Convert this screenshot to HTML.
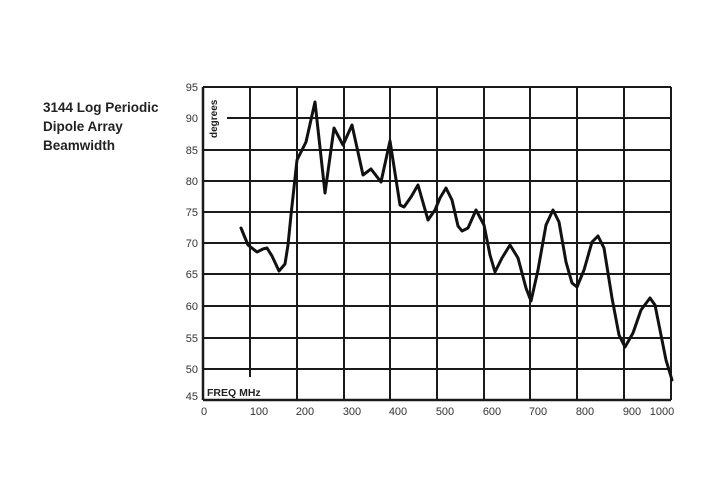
<!DOCTYPE html>
<html><head><style>
body{margin:0;background:#fff;}
</style></head><body>
<svg width="720" height="500" xmlns="http://www.w3.org/2000/svg" style="display:block">
<rect width="720" height="500" fill="#fff"/>
<g font-family="Liberation Sans, sans-serif" font-weight="bold" font-size="13.5" fill="#222">
<text x="43" y="112">3144 Log Periodic</text>
<text x="43" y="131">Dipole Array</text>
<text x="43" y="150">Beamwidth</text>
</g>
<g stroke="#1a1a1a" stroke-width="2" fill="none">
<line x1="203" y1="87" x2="671" y2="87"/>
<line x1="227" y1="118" x2="671" y2="118"/>
<line x1="203" y1="150" x2="671" y2="150"/>
<line x1="203" y1="181" x2="671" y2="181"/>
<line x1="203" y1="212" x2="671" y2="212"/>
<line x1="203" y1="243" x2="671" y2="243"/>
<line x1="203" y1="274" x2="671" y2="274"/>
<line x1="203" y1="306" x2="671" y2="306"/>
<line x1="203" y1="338" x2="671" y2="338"/>
<line x1="203" y1="369" x2="671" y2="369"/>
<line x1="203" y1="400" x2="671" y2="400" stroke-width="2.5"/>
<line x1="203" y1="87" x2="203" y2="400" stroke-width="2.5"/>
<line x1="250" y1="87" x2="250" y2="377"/>
<line x1="297" y1="87" x2="297" y2="400"/>
<line x1="344" y1="87" x2="344" y2="400"/>
<line x1="390" y1="87" x2="390" y2="400"/>
<line x1="437" y1="87" x2="437" y2="400"/>
<line x1="484" y1="87" x2="484" y2="400"/>
<line x1="530" y1="87" x2="530" y2="400"/>
<line x1="577" y1="87" x2="577" y2="400"/>
<line x1="624" y1="87" x2="624" y2="400"/>
<line x1="671" y1="87" x2="671" y2="400"/>
</g>
<g font-family="Liberation Sans, sans-serif" font-size="11" fill="#333" text-anchor="end">
<text x="198" y="91">95</text><text x="198" y="122">90</text><text x="198" y="154">85</text>
<text x="198" y="185">80</text><text x="198" y="216">75</text><text x="198" y="247">70</text>
<text x="198" y="278">65</text><text x="198" y="310">60</text><text x="198" y="342">55</text>
<text x="198" y="373">50</text><text x="198" y="400">45</text>
</g>
<g font-family="Liberation Sans, sans-serif" font-size="11" fill="#333" text-anchor="middle">
<text x="204" y="415">0</text><text x="259" y="415">100</text><text x="305" y="415">200</text>
<text x="352" y="415">300</text><text x="398" y="415">400</text><text x="445" y="415">500</text>
<text x="492" y="415">600</text><text x="538" y="415">700</text><text x="585" y="415">800</text>
<text x="632" y="415">900</text><text x="662" y="415">1000</text>
</g>
<text x="207" y="396" font-family="Liberation Sans, sans-serif" font-weight="bold" font-size="10.5" fill="#222">FREQ MHz</text>
<text transform="translate(217,138) rotate(-90)" font-family="Liberation Sans, sans-serif" font-weight="bold" font-size="10" fill="#222">degrees</text>
<polyline fill="none" stroke="#111" stroke-width="3" stroke-linejoin="round" stroke-linecap="round"
points="241,228 248,245 257,252 263,249 267,248 272,256 279,271 285,264 288,245 291,215 297,160 306,142 315,102 325,193 334,128 343,145 352,125 363,175 371,169 381,182 390,141 400,205 404,207 411,197 418,185 428,220 435,210 440,198 446,188 452,200 458,226 462,231 468,228 476,210 484,225 490,255 495,272 502,258 510,245 518,258 526,288 531,301 538,270 546,225 553,210 559,222 566,262 572,283 577,287 584,270 592,242 598,236 604,248 612,298 619,335 625,347 633,333 641,310 650,298 655,305 660,330 666,360 672,380"/>
</svg>
</body></html>
